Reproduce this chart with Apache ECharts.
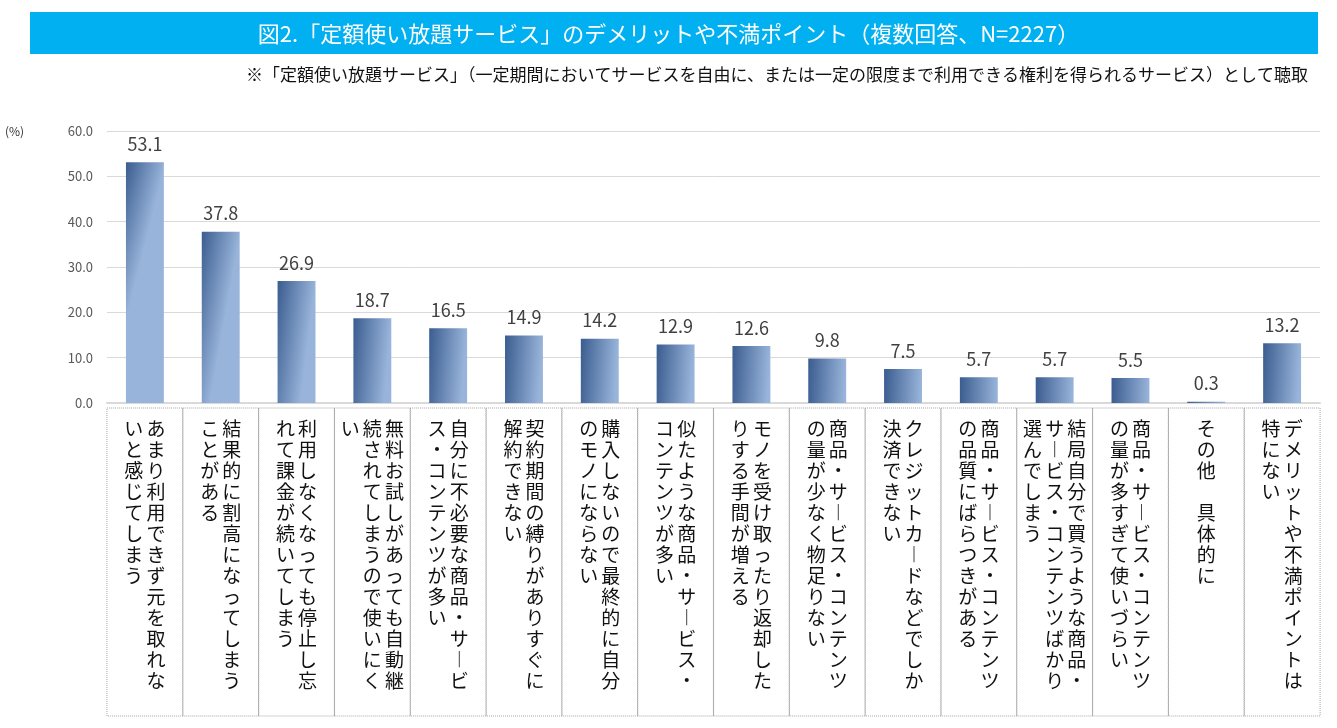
<!doctype html>
<html lang="ja">
<head>
    <meta charset="utf-8">
    <title>定額使い放題サービスのデメリット</title>
    <script src="https://cdn.jsdelivr.net/npm/echarts@6/dist/echarts.min.js"></script>
    <style>
        *{margin:0;padding:0}
        html,body{width:100%;height:100%;background:#fff;}
        #main{width:1337px;height:728px;}
    </style>
</head>
<body>
<div id="main"></div>
<script type="text/javascript">
    var FONT = '"Noto Sans CJK JP", "Noto Sans", sans-serif';

    // 項目（縦書き、13文字で折り返し）
    var categories = [
        'あまり利用できず元を取れないと感じてしまう',
        '結果的に割高になってしまうことがある',
        '利用しなくなっても停止し忘れて課金が続いてしまう',
        '無料お試しがあっても自動継続されてしまうので使いにくい',
        '自分に不必要な商品・サービス・コンテンツが多い',
        '契約期間の縛りがありすぐに解約できない',
        '購入しないので最終的に自分のモノにならない',
        '似たような商品・サービス・コンテンツが多い',
        'モノを受け取ったり返却したりする手間が増える',
        '商品・サービス・コンテンツの量が少なく物足りない',
        'クレジットカードなどでしか決済できない',
        '商品・サービス・コンテンツの品質にばらつきがある',
        '結局自分で買うような商品・サービス・コンテンツばかり選んでしまう',
        '商品・サービス・コンテンツの量が多すぎて使いづらい',
        'その他　具体的に',
        'デメリットや不満ポイントは特にない'
    ];
    var values = [53.1, 37.8, 26.9, 18.7, 16.5, 14.9, 14.2, 12.9, 12.6, 9.8, 7.5, 5.7, 5.7, 5.5, 0.3, 13.2];
    var yTicks = [0, 10, 20, 30, 40, 50, 60];

    var titleText = '図2.「定額使い放題サービス」のデメリットや不満ポイント（複数回答、N=2227）';
    var noteText = '※「定額使い放題サービス」（一定期間においてサービスを自由に、または一定の限度まで利用できる権利を得られるサービス）として聴取';

    // 縦書き風：右の列から順に13文字ずつ、行ごとに並べ直す
    function tategaki(str) {
        var chars = Array.from(str.replace(/ー/g, '︱'));
        var cols = [];
        for (var i = 0; i < chars.length; i += 13) {
            cols.push(chars.slice(i, i + 13));
        }
        var rows = [];
        for (var r = 0; r < cols[0].length; r++) {
            var line = [];
            for (var c = cols.length - 1; c >= 0; c--) {
                line.push(cols[c][r] || '　');
            }
            rows.push(line.join('\u2006'));
        }
        return rows.join('\n');
    }

    var myChart = echarts.init(document.getElementById('main'));

    var option = {
        animation: false,
        textStyle: {fontFamily: FONT},
        title: [{
            text: titleText,
            left: 'center',
            top: 18,
            textStyle: {color: '#fff', fontSize: 22, fontWeight: 'normal', fontFamily: FONT}
        }, {
            text: noteText,
            right: 24,
            top: 61,
            textStyle: {color: '#111', fontSize: 17, fontWeight: 'normal', fontFamily: FONT}
        }],
        graphic: [{
            type: 'rect',
            left: 30,
            top: 12,
            z: -1,
            shape: {width: 1288, height: 42},
            style: {fill: '#00b0f0'}
        }, {
            type: 'text',
            left: 5,
            top: 125,
            style: {text: '(%)', fontSize: 12, fill: '#333', fontFamily: FONT}
        }],
        grid: {
            left: 107,
            right: 17,
            top: 131,
            bottom: 325
        },
        xAxis: {
            type: 'category',
            data: categories,
            axisLine: {lineStyle: {color: '#d9d9d9', width: 2}},
            axisTick: {show: false},
            axisLabel: {
                interval: 0,
                margin: 5,
                formatter: tategaki,
                fontSize: 19,
                lineHeight: 21,
                color: '#111',
                fontFamily: FONT,
                align: 'center',
                verticalAlign: 'top',
                width: 76,
                height: 298,
                padding: [10, 0, 0, 0],
                borderColor: '#a6a6a6',
                borderWidth: 1,
                borderType: 'dotted'
            }
        },
        yAxis: {
            type: 'value',
            min: yTicks[0],
            max: yTicks[yTicks.length - 1],
            interval: 10,
            axisLine: {show: false},
            axisTick: {show: false},
            axisLabel: {
                formatter: function (v) { return v.toFixed(1); },
                color: '#595959',
                fontSize: 13,
                margin: 14,
                fontFamily: FONT
            },
            splitLine: {lineStyle: {color: '#d9d9d9'}}
        },
        series: [{
            type: 'bar',
            data: values,
            barWidth: '50%',
            itemStyle: {
                color: new echarts.graphic.LinearGradient(0, 0, 1, 0.04, [
                    {offset: 0, color: '#3a5c8f'},
                    {offset: 1, color: '#98b4da'}
                ])
            },
            label: {
                show: true,
                position: 'top',
                distance: 9,
                formatter: function (p) { return p.value.toFixed(1); },
                fontSize: 18,
                color: '#404040',
                fontFamily: FONT
            }
        }]
    };
    myChart.setOption(option);
</script>
</body>
</html>
